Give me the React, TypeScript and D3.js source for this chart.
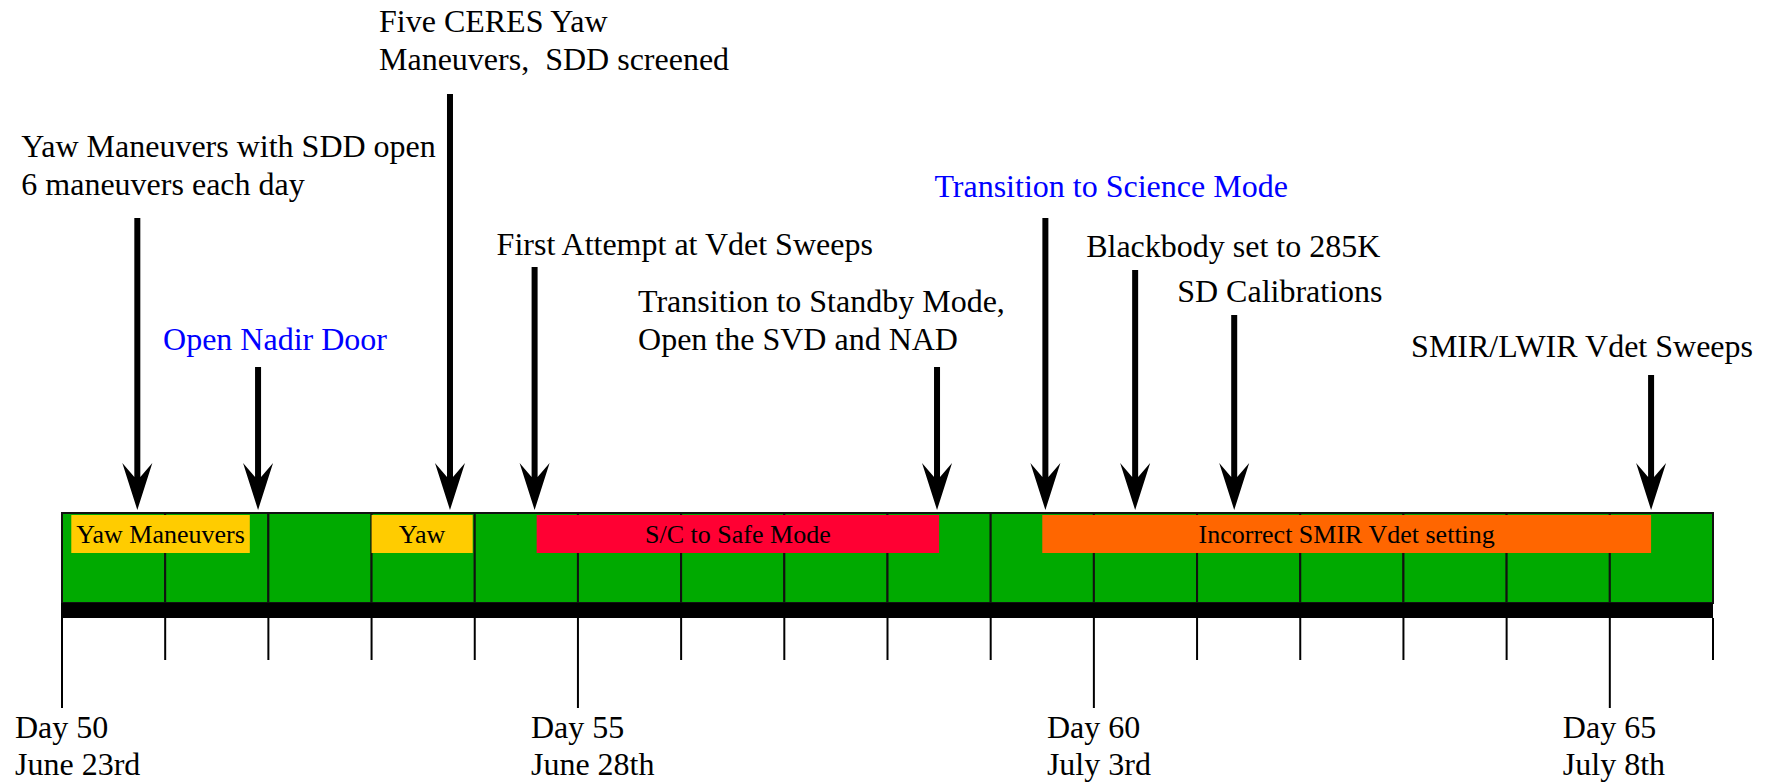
import React, { useEffect } from 'react';
import * as d3 from 'd3';

// timeline days (cell boundaries / ticks)
const tickDays = [50, 51, 52, 53, 54, 55, 56, 57, 58, 59, 60, 61, 62, 63, 64, 65, 66];
const majorDays = [50, 55, 60, 65];
const dayLabels = ['Day 50', 'Day 55', 'Day 60', 'Day 65'];
const dateLabels = ['June 23rd', 'June 28th', 'July 3rd', 'July 8th'];

// periods drawn on top of the bar
const periodLabels = ['Yaw Maneuvers', 'Yaw', 'S/C to Safe Mode', 'Incorrect SMIR Vdet setting'];
const periodStart = [50.09, 53.0, 54.6, 59.5];
const periodEnd = [51.82, 53.98, 58.5, 65.4];
const periodColors = ['#ffcc00', '#ffcc00', '#ff0033', '#ff6600'];

// events marked by arrows
const eventDays = [50.73, 51.9, 53.76, 54.58, 58.48, 59.53, 60.4, 61.36, 65.4];
const eventLabels = [
  ['Yaw Maneuvers with SDD open', '6 maneuvers each day'],
  ['Open Nadir Door'],
  ['Five CERES Yaw', 'Maneuvers,  SDD screened'],
  ['First Attempt at Vdet Sweeps'],
  ['Transition to Standby Mode,', 'Open the SVD and NAD'],
  ['Transition to Science Mode'],
  ['Blackbody set to 285K'],
  ['SD Calibrations'],
  ['SMIR/LWIR Vdet Sweeps'],
];
const eventColors = ['#000', '#0000ff', '#000', '#000', '#000', '#0000ff', '#000', '#000', '#000'];

// label layout: text offset from arrow, first baseline, arrow top
const eventLayout = [
  { dx: -116, y: 157, top: 218 },
  { dx: -95, y: 350, top: 367 },
  { dx: -71, y: 32, top: 94 },
  { dx: -38, y: 255, top: 267 },
  { dx: -299, y: 312, top: 367 },
  { dx: -111, y: 197, top: 218 },
  { dx: -49, y: 257, top: 270 },
  { dx: -57, y: 302, top: 315 },
  { dx: -240, y: 357, top: 375 },
];

const W = 1769;
const H = 782;
const barTop = 513;
const barBottom = 603;
const axisBottom = 618;
const tipY = 510;
const serif = { fontFamily: "'Liberation Serif', 'Times New Roman', Times, serif" };

const App: React.FC = () => {
  useEffect(() => {
    document.body.style.margin = '0';
  }, []);

  const x = d3.scaleLinear().domain([50, 66]).range([62, 1713]);

  const arrowPath = (cx: number, top: number) =>
    `M${cx - 3},${top} L${cx - 3},477 L${cx - 15},463 L${cx},${tipY} L${cx + 15},463 L${cx + 3},477 L${cx + 3},${top} Z`;

  return (
    <svg width={W} height={H} style={{ display: 'block', background: '#fff' }}>
      {/* day cells */}
      {tickDays.slice(0, -1).map((d) => (
        <rect
          key={'c' + d}
          x={x(d)}
          y={barTop}
          width={x(d + 1) - x(d)}
          height={barBottom - barTop}
          fill="#00aa00"
          stroke="#111"
          strokeWidth={2}
        />
      ))}

      {/* periods */}
      {periodLabels.map((p, i) => (
        <g key={'p' + i}>
          <rect
            x={x(periodStart[i])}
            y={515}
            width={x(periodEnd[i]) - x(periodStart[i])}
            height={38}
            fill={periodColors[i]}
          />
          <text
            x={(x(periodStart[i]) + x(periodEnd[i])) / 2}
            y={543}
            fontSize={26}
            textAnchor="middle"
            fill="#000"
            style={serif}
          >
            {p}
          </text>
        </g>
      ))}

      {/* axis bar */}
      <rect x={x(50) - 1} y={barBottom} width={x(66) - x(50) + 1} height={axisBottom - barBottom} fill="#000" />

      {/* ticks */}
      {tickDays.map((d) => (
        <line
          key={'t' + d}
          x1={x(d)}
          x2={x(d)}
          y1={axisBottom}
          y2={majorDays.includes(d) ? 708 : 660}
          stroke="#000"
          strokeWidth={2}
        />
      ))}

      {/* day labels */}
      {majorDays.map((d, i) => (
        <g key={'l' + d}>
          <text x={x(d) - 47} y={738} fontSize={32} fill="#000" style={serif}>{dayLabels[i]}</text>
          <text x={x(d) - 47} y={775} fontSize={32} fill="#000" style={serif}>{dateLabels[i]}</text>
        </g>
      ))}

      {/* event arrows and labels */}
      {eventDays.map((d, i) => {
        const cx = x(d);
        const lay = eventLayout[i];
        return (
          <g key={'e' + i}>
            <path d={arrowPath(cx, lay.top)} fill="#000" />
            {eventLabels[i].map((line, j) => (
              <text
                key={j}
                x={cx + lay.dx}
                y={lay.y + j * 38}
                fontSize={32}
                fill={eventColors[i]}
                style={{ ...serif, whiteSpace: 'pre' }}
              >
                {line}
              </text>
            ))}
          </g>
        );
      })}
    </svg>
  );
};

export default App;
